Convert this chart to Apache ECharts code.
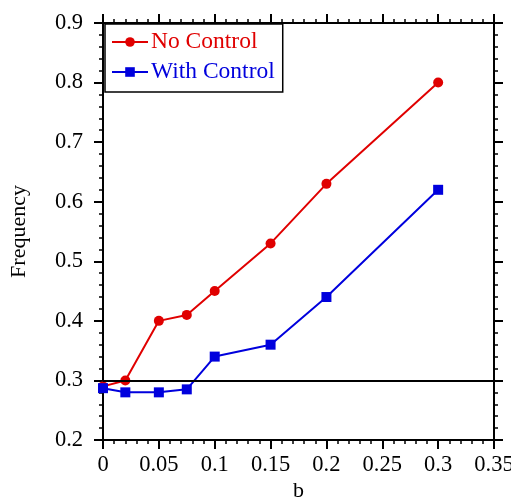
<!DOCTYPE html>
<html>
<head>
<meta charset="utf-8">
<script src="https://cdn.jsdelivr.net/npm/echarts@6/dist/echarts.min.js"></script>
<style>
html, body { margin: 0; padding: 0; background: #fff; }
#chart { width: 511px; height: 498px; }
</style>
</head>
<body>
<div id="chart"></div>
<script>
var bValues = [0, 0.02, 0.05, 0.075, 0.1, 0.15, 0.2, 0.3];
var noControl = [0.29, 0.30, 0.40, 0.41, 0.45, 0.53, 0.63, 0.80];
var withControl = [0.287, 0.28, 0.28, 0.285, 0.34, 0.36, 0.44, 0.62];
var refLevel = 0.3;

var serif = '"Liberation Serif", "Times New Roman", serif';

function pairs(ys) {
	return bValues.map(function (x, i) { return [x, ys[i]]; });
}

var axisLine = { show: true, onZero: false, lineStyle: { color: '#000', width: 2 } };
var tick = { show: true, inside: false, length: 9, lineStyle: { color: '#000', width: 2 } };
var minor = { show: true, splitNumber: 5, length: 4, lineStyle: { color: '#000', width: 1.5 } };

function xAx(pos, labels) {
	return {
		type: 'value', position: pos, min: 0, max: 0.35, interval: 0.05,
		name: labels ? 'b' : '', nameLocation: 'middle', nameGap: 40, nameMoveOverlap: false,
		nameTextStyle: { fontFamily: serif, fontSize: 22, color: '#000' },
		axisLine: axisLine, axisTick: tick, minorTick: minor,
		axisLabel: { show: labels, fontFamily: serif, fontSize: 22.5, color: '#000', margin: 14 },
		splitLine: { show: false }
	};
}
function yAx(pos, labels) {
	return {
		type: 'value', position: pos, min: 0.2, max: 0.9, interval: 0.1,
		name: labels ? 'Frequency' : '', nameLocation: 'middle', nameGap: 73, nameMoveOverlap: false,
		nameTextStyle: { fontFamily: serif, fontSize: 22, color: '#000' },
		axisLine: axisLine, axisTick: tick, minorTick: minor,
		axisLabel: { show: labels, fontFamily: serif, fontSize: 22.5, color: '#000', margin: 20 },
		splitLine: { show: false }
	};
}

var chart = echarts.init(document.getElementById('chart'));
chart.setOption({
	animation: false,
	grid: { left: 103, right: 17, top: 23, bottom: 58, containLabel: false, outerBoundsMode: 'none' },
	xAxis: [xAx('bottom', true), xAx('top', false)],
	yAxis: [yAx('left', true), yAx('right', false)],
	legend: {
		orient: 'vertical', left: 105, top: 24,
		backgroundColor: '#fff', borderColor: '#000', borderWidth: 1.5, borderRadius: 0,
		padding: [6, 8, 8, 6], itemGap: 6, itemWidth: 36, itemHeight: 12,
		textStyle: { fontFamily: serif, fontSize: 23.5, padding: [0, 0, 0, -2] },
		data: [
			{ name: 'No Control', textStyle: { color: '#e00000' } },
			{ name: 'With Control', textStyle: { color: '#0000dd' } }
		]
	},
	series: [
		{
			name: 'No Control', type: 'line', data: pairs(noControl),
			symbol: 'circle', symbolSize: 10,
			lineStyle: { color: '#e00000', width: 2 },
			itemStyle: { color: '#e00000' },
			markLine: {
				silent: true, symbol: 'none', label: { show: false },
				lineStyle: { color: '#000', width: 2, type: 'solid' },
				data: [{ yAxis: refLevel }]
			}
		},
		{
			name: 'With Control', type: 'line', data: pairs(withControl),
			symbol: 'rect', symbolSize: 10,
			lineStyle: { color: '#0000dd', width: 2 },
			itemStyle: { color: '#0000dd' }
		}
	]
});
</script>
</body>
</html>
